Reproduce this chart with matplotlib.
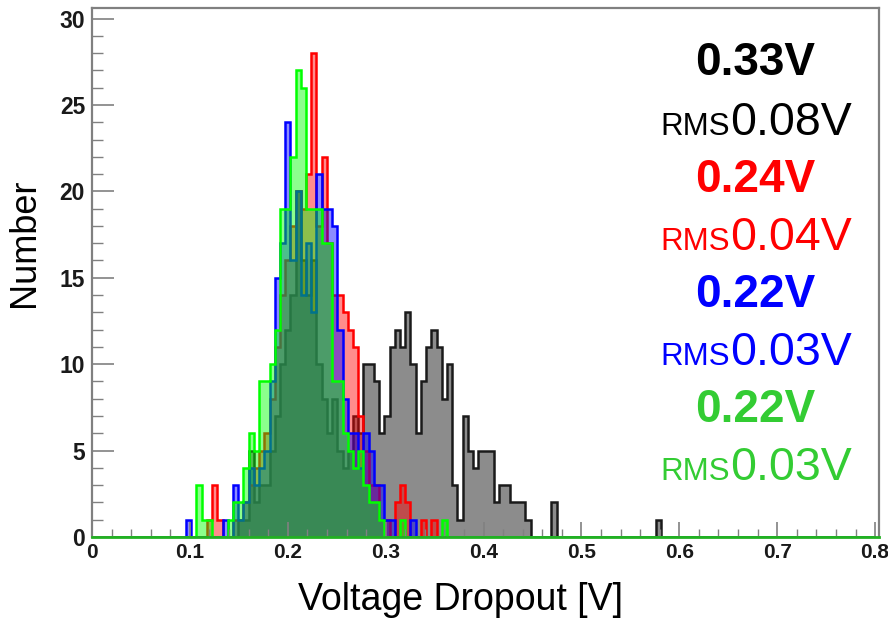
import numpy as np
import matplotlib
matplotlib.use("Agg")
import matplotlib.pyplot as plt

plt.rcParams['font.family'] = ['Liberation Sans', 'DejaVu Sans']

# histogram binning: 150 bins from 0 to 0.8 V
n_bins = 150
x_min, x_max = 0.0, 0.8
first_bin = 17  # counts below start at this bin index

# counts per bin
black_counts = [0, 0, 0, 0, 0, 0, 0, 0, 0, 0, 0,
                1, 1, 5, 2, 3, 3, 5, 7, 10, 12, 14, 20, 16, 14, 16, 10, 8, 6, 8, 5, 4, 5, 7, 6,
                10, 10, 9, 6, 7, 11, 12, 11, 13, 10, 6, 9, 11, 12, 11, 8, 10, 3, 1, 7, 5, 4,
                5, 5, 5, 2, 3, 3, 2, 2, 2, 1, 0, 0, 0, 0, 2,
                0, 0, 0, 0, 0, 0, 0, 0, 0, 0, 0, 0, 0, 0, 0, 0, 0, 0, 0, 1]
red_counts = [0, 0, 0, 0, 0, 1, 3, 1, 0, 0, 1, 1, 2, 3, 4, 5, 6, 8, 11, 14, 16, 18, 20, 19,
              21, 28, 18, 22, 17, 14, 14, 13, 12, 11, 7, 5, 3, 3, 1, 1, 0, 2, 3, 2, 0, 0, 1, 0, 1]
blue_counts = [0, 1, 0, 0, 0, 0, 0, 0, 1, 0, 3, 1, 2, 4, 3, 4, 5, 9, 15, 17, 24, 16, 20, 14,
               17, 13, 21, 19, 19, 18, 12, 8, 6, 6, 4, 6, 5, 3, 3, 1, 1, 0, 0, 0, 1]
green_counts = [0, 0, 0, 3, 1, 1, 0, 0, 0, 1, 2, 2, 4, 6, 5, 9, 9, 10, 12, 19, 19, 22, 27, 26,
                19, 19, 19, 17, 17, 9, 9, 6, 5, 4, 5, 3, 2, 2, 1, 0, 0, 0, 1,
                0, 0, 0, 0, 0, 0, 0, 1]

# labels on the right: mean and RMS of each sample
mean_labels = ["0.33V", "0.24V", "0.22V", "0.22V"]
rms_labels = ["0.08V", "0.04V", "0.03V", "0.03V"]
text_colors = ["black", "#ff0000", "#0000ff", "#33cc33"]

line_colors = ["#1a1a1a", "#ff0000", "#0000ff", "#00ff00"]
fill_colors = ["#000000", "#ff0000", "#0000ff", "#00ff00"]


def full_counts(counts):
    arr = np.zeros(n_bins)
    arr[first_bin:first_bin + len(counts)] = counts
    return arr


edges = np.linspace(x_min, x_max, n_bins + 1)
all_counts = [black_counts, red_counts, blue_counts, green_counts]

fig = plt.figure(figsize=(8.88, 6.27), dpi=100)
ax = fig.add_axes([0.1036, 0.1435, 0.8863, 0.8435])

for counts, lc, fc in zip(all_counts, line_colors, fill_colors):
    vals = full_counts(counts)
    ax.stairs(vals, edges, fill=True, color=fc, alpha=0.45, lw=0)
    ax.stairs(vals, edges, color=lc, lw=1.8)

ax.set_xlim(0, 0.804)
ax.set_ylim(0, 30.6)

ax.set_xticks(np.arange(0, 0.81, 0.1))
ax.set_xticks(np.arange(0, 0.81, 0.02), minor=True)
ax.set_yticks(np.arange(0, 31, 5))
ax.set_yticks(np.arange(0, 31, 1), minor=True)
ax.set_xticklabels(["0", "0.1", "0.2", "0.3", "0.4", "0.5", "0.6", "0.7", "0.8"])

ax.tick_params(axis='both', which='both', direction='in', color='#808080',
               labelcolor='#1a1a1a', top=False, right=False)
ax.tick_params(axis='x', which='major', length=11, width=1.2, pad=4, labelsize=15)
ax.tick_params(axis='x', which='minor', length=5.5, width=1.0)
ax.tick_params(axis='y', which='major', length=16, width=1.2, pad=5, labelsize=16.5)
ax.tick_params(axis='y', which='minor', length=8, width=1.0)
for lab in ax.get_xticklabels() + ax.get_yticklabels():
    lab.set_fontweight('bold')

for side in ['left', 'top', 'right']:
    ax.spines[side].set_color('#808080')
    ax.spines[side].set_linewidth(1.6)
ax.spines['bottom'].set_color('#22b022')
ax.spines['bottom'].set_linewidth(2.0)

ax.set_xlabel("Voltage Dropout [V]", fontsize=27)
ax.xaxis.set_label_coords(0.4676, -0.085)
ax.set_ylabel("Number", fontsize=26)
ax.yaxis.set_label_coords(-0.0635, 0.556)

# mean / rms annotations, in figure pixel positions
row_y = [75, 135, 192, 250, 307, 365, 422, 480]
W, H = 888.0, 627.0
for k in range(4):
    c = text_colors[k]
    fig.text(755 / W, 1 - row_y[2 * k] / H, mean_labels[k], color=c, fontsize=33,
             fontweight='bold', ha='center', va='baseline')
    fig.text(730 / W, 1 - row_y[2 * k + 1] / H, "RMS", color=c, fontsize=22.5,
             ha='right', va='baseline')
    fig.text(730 / W, 1 - row_y[2 * k + 1] / H, rms_labels[k], color=c, fontsize=33.5,
             ha='left', va='baseline')

fig.savefig("out.png", dpi=100)
